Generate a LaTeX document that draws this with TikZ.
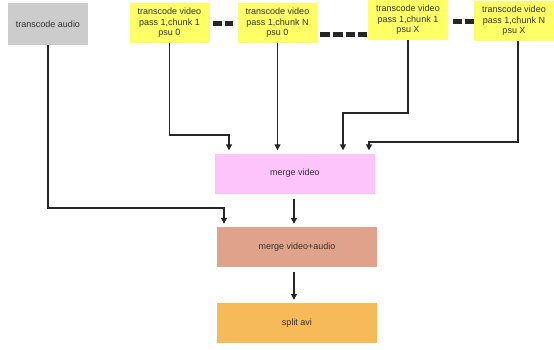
\documentclass[tikz,border=0pt]{standalone}
\usepackage{fontspec}
\setmainfont{Liberation Sans}
\usetikzlibrary{arrows.meta,calc}
\definecolor{audgray}{HTML}{CCCCCC}
\definecolor{vidyellow}{HTML}{FFFF66}
\definecolor{mvpink}{HTML}{FDC4FB}
\definecolor{mvasalmon}{HTML}{E0A28A}
\definecolor{splitorange}{HTML}{F6BA58}
\begin{document}
\begin{tikzpicture}[x=1pt,y=-1pt,
  box/.style={rectangle,inner sep=1pt,align=center,font=\fontsize{9}{10.5}\selectfont,text=black!80},
  vbox/.style={box,fill=vidyellow,minimum width=80pt,minimum height=40pt},
  bigbox/.style={box,minimum width=160pt,minimum height=40pt},
  conn/.style={line width=1.2pt,black!85},
  arr/.style={conn,-{Triangle[width=6pt,length=6pt]},shorten >=3pt},
  dashblk/.style={fill=black!85}]
\useasboundingbox (0,0) rectangle (554,349);
\node[box,fill=audgray,minimum width=80pt,minimum height=42pt] (aud) at (48,24) {transcode audio};
\node[vbox] (v1) at (169.5,23) {transcode video\\pass 1,chunk 1\\psu 0};
\node[vbox] (v2) at (277.5,23) {transcode video\\pass 1,chunk N\\psu 0};
\node[vbox] (v3) at (408,20) {transcode video\\pass 1,chunk 1\\psu X};
\node[vbox] (v4) at (514,21) {transcode video\\pass 1,chunk N\\psu X};
\node[bigbox,fill=mvpink] (mv) at (295,173.5) {merge video};
\node[bigbox,fill=mvasalmon] (mva) at (297,247) {merge video+audio};
\node[bigbox,fill=splitorange] (sa) at (297,323) {split avi};
% dashes
\fill[dashblk] (213,21) rectangle (222,26);
\fill[dashblk] (225,21) rectangle (233,26);
\fill[dashblk] (320,32) rectangle (330,37);
\fill[dashblk] (333,32) rectangle (343,37);
\fill[dashblk] (346,32) rectangle (355,37);
\fill[dashblk] (358,32) rectangle (367,37);
\fill[dashblk] (453,19) rectangle (462,24);
\fill[dashblk] (465,19) rectangle (474,24);
% elbows
\coordinate (e1) at (229,135);
\coordinate (e3) at (343,113);
\coordinate (e4) at (369,142);
\coordinate (ea) at (224,208);
\draw[arr] (v1.south) |- (e1) -- (e1 |- mv.north);
\draw[arr] (v2.south) -- (v2.south |- mv.north);
\draw[arr] (v3.south) |- (e3) -- (e3 |- mv.north);
\draw[arr] ([xshift=4pt]v4.south) |- (e4) -- (e4 |- mv.north);
\draw[arr] (aud.south) |- (ea) -- (ea |- mva.north);
\draw[arr,shorten <=5pt] (mv.south -| 294,0) -- (mva.north -| 294,0);
\draw[arr,shorten <=5pt] (mva.south -| 294,0) -- (sa.north -| 294,0);
\end{tikzpicture}
\end{document}
